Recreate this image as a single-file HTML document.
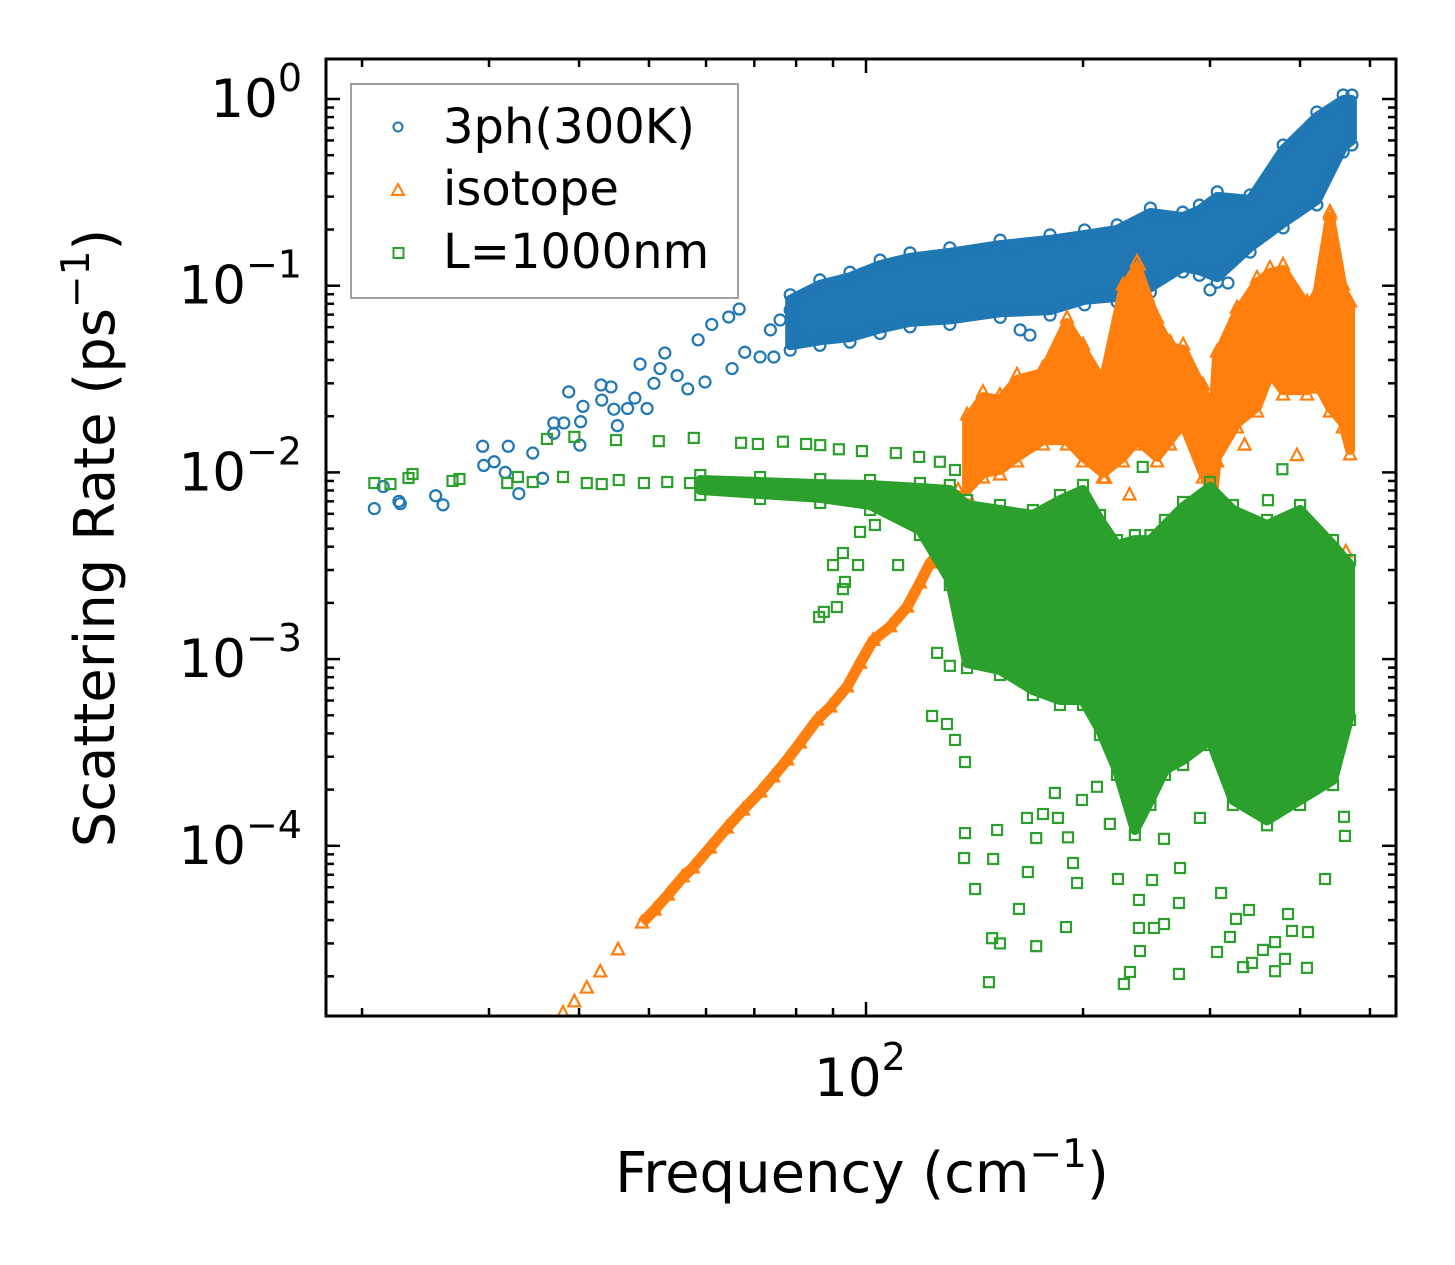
<!DOCTYPE html>
<html><head><meta charset="utf-8"><style>
html,body{margin:0;padding:0;background:#fff;}
svg{display:block;font-family:"DejaVu Sans","Liberation Sans",sans-serif;}
</style></head>
<body>
<svg id="chart" width="1455" height="1265" viewBox="0 0 1455 1265" xmlns="http://www.w3.org/2000/svg">
<defs><clipPath id="plotclip"><rect x="326" y="59" width="1070" height="957"/></clipPath></defs>
<rect width="1455" height="1265" fill="#fff"/>
<g id="marks" clip-path="url(#plotclip)"></g>
<g id="axes"></g>
<g id="legend">
<rect x="351" y="84" width="387" height="214" fill="#fff" fill-opacity="0.85" stroke="#a0a0a0" stroke-width="2"/>
<circle cx="398" cy="127" r="4.5" fill="none" stroke="#1f77b4" stroke-width="2"/>
<text x="443" y="143" font-size="48">3ph(300K)</text>
<path d="M398,184 L404,195 L392,195 Z" fill="none" stroke="#ff7f0e" stroke-width="2"/>
<text x="443" y="205" font-size="48">isotope</text>
<rect x="393.5" y="248" width="10" height="10" fill="none" stroke="#2ca02c" stroke-width="2"/>
<text x="443" y="268" font-size="48">L=1000nm</text>
</g>
<text x="862" y="1192" font-size="56" text-anchor="middle">Frequency (cm<tspan font-size="39" dy="-25">−1</tspan><tspan dy="25">)</tspan></text>
<text transform="translate(114,538) rotate(-90)" font-size="56" text-anchor="middle">Scattering Rate (ps<tspan font-size="39" dy="-25">−1</tspan><tspan dy="25">)</tspan></text>
</svg>
<script>
// ---- data ----
const blueF = [20.8,21.4,22.5,22.6,25.3,25.9,29.4,29.5,30.5,31.9,31.6,33.0,34.5,35.6,36.9,36.9,38.1,38.7,40.1,40.2,40.5,42.9,43.0,44.3,44.7,45.2,46.7,47.8,48.6,49.7,50.8,51.8,52.6,54.7,56.6,58.5,59.8,61.1,64.5,65.2,66.7,67.9,71.3,74.5,80.0,86.7,73.7,76.0,78.5,163.6,168.8,300,317.7];
const blueR = [0.0064,0.0084,0.0070,0.0068,0.0075,0.0067,0.0138,0.0109,0.0114,0.0138,0.0100,0.0077,0.0127,0.0093,0.0184,0.0162,0.0184,0.027,0.0140,0.0187,0.0226,0.0294,0.0244,0.0287,0.0218,0.0178,0.022,0.025,0.038,0.022,0.030,0.036,0.0436,0.033,0.028,0.0513,0.0305,0.062,0.068,0.036,0.075,0.044,0.0415,0.0415,0.0547,0.053,0.058,0.0655,0.074,0.058,0.0544,0.095,0.1034];
const blueBandF = [78.5,86.3,95,104.6,115.1,130.7,153.5,180,201,223,248,275,290,307,341,379,422,459,472];
const blueBandHi = [0.084,0.101,0.111,0.129,0.141,0.150,0.165,0.176,0.187,0.199,0.245,0.233,0.254,0.299,0.288,0.533,0.801,0.988,0.988];
const blueBandLo = [0.048,0.051,0.053,0.059,0.064,0.066,0.072,0.074,0.084,0.087,0.098,0.126,0.121,0.111,0.161,0.217,0.288,0.553,0.603];

const orangeLineF = [38.0,39.4,41.0,42.8,45.3,48.9,50.9,53.1,55.7,57.5,60.7,64.1,67.5,71.3,74.3,77.7,81.0,85.5,89.2,94.1,98.1,102.3,108,114,118.8,122.7,126.6,130.7,134.2];
const orangeLineR = [1.27e-5,1.46e-5,1.73e-5,2.11e-5,2.77e-5,3.86e-5,4.53e-5,5.45e-5,6.81e-5,7.61e-5,9.73e-5,1.245e-4,1.555e-4,1.94e-4,2.34e-4,2.88e-4,3.56e-4,4.72e-4,5.54e-4,7.1e-4,9.5e-4,1.26e-3,1.49e-3,1.9e-3,2.56e-3,3.27e-3,3.61e-3,5.56e-3,8.05e-3];
const orangeBandF = [138.1,145.3,153.4,162,176,190,200,213.2,227.2,237.6,253.3,264,275.3,293.4,302.9,306.8,327,348.6,363.4,378.8,409,422,440,458.7,469.2];
const orangeBandHi = [0.0191,0.0253,0.0244,0.0313,0.0341,0.0631,0.0453,0.0301,0.0948,0.126,0.0631,0.047,0.0453,0.0276,0.0191,0.0415,0.0714,0.1034,0.117,0.1214,0.0769,0.087,0.2333,0.0948,0.0769];
const orangeBandLo = [0.00805,0.00993,0.0103,0.0121,0.0149,0.0149,0.0121,0.00993,0.0121,0.0149,0.0121,0.0149,0.0184,0.00993,0.00757,0.0121,0.0184,0.0224,0.0341,0.0276,0.0276,0.0301,0.0224,0.0184,0.0132];
const orangeF = [239,463,465,440,232,214.6,335,396];
const orangeR = [0.129,0.00375,0.00234,0.24,0.00757,0.0093,0.0140,0.0123];

const greenF = [36.1,39.4,45.0,51.6,57.7,67.1,70.8,76.7,82.6,86.4,91.7,98.7,110,118.5,126.6,132.9,
 20.8,21.9,23.2,23.5,26.7,27.3,31.8,32.9,34.5,38.0,41.0,43.0,45.4,49.2,53.0,57.0,
 98.1,102.9,92.9,90.0,97.5,93.5,92.9,87.4,91.1,86.1,110.8,125.5,130.7,123.5,129.5,132.9,
 137.2,137.2,136.8,141.7,148.1,150.1,152,149.6,153.4,163,167.2,167.7,172.2,172.2,176,184.6,182.8,189.4,190.6,193.7,196.2,199.3,209.1,217.9,223.6,227.9,232.3,239.1,239.1,239.9,249.3,250.9,259,259,271.7,272.6,271.7,290.5,306.8,310.8,319.8,326,333.4,343.1,339.8,355.3,369.3,369.3,381.2,384.9,389.8,410.2,408.9,433.2,461.6,460.2,242,378,361];
const greenR = [0.0151,0.0155,0.0149,0.0147,0.0153,0.0144,0.0142,0.0146,0.0142,0.0140,0.0133,0.0130,0.0127,0.0121,0.0114,0.0103,
 0.00877,0.00866,0.00933,0.0098,0.0090,0.00922,0.00877,0.00945,0.00888,0.00945,0.00877,0.00866,0.0091,0.00877,0.00888,0.00877,
 0.0048,0.00523,0.0037,0.00319,0.00319,0.00259,0.00237,0.00179,0.0019,0.00168,0.00319,0.00108,0.00092,0.000496,0.000449,0.000369,
 0.000281,0.000117,0.000086,5.87e-5,1.86e-5,8.5e-5,0.0001215,3.2e-5,3.0e-5,4.59e-5,0.000141,7.24e-5,0.00011,2.9e-5,0.000148,0.000141,0.000192,3.67e-5,0.000111,8.09e-5,6.32e-5,0.000176,0.000207,0.000131,6.64e-5,1.82e-5,2.11e-5,5.13e-5,3.63e-5,2.73e-5,6.56e-5,3.63e-5,3.81e-5,0.000109,2.06e-5,7.6e-5,4.94e-5,0.000141,2.7e-5,5.59e-5,3.25e-5,4.06e-5,2.24e-5,2.36e-5,4.53e-5,2.77e-5,3.05e-5,2.13e-5,2.48e-5,4.31e-5,3.5e-5,3.45e-5,2.22e-5,6.64e-5,0.000113,0.000143,0.0107,0.0104,0.0071];
const greenBandF = [58.9,71.3,86.4,101.3,118.8,130.7,138.1,153.4,170.4,185.8,200,211.1,222.9,236,248,259.8,275.3,300,322.8,359.9,400,444.4,469.2];
const greenBandHi = [0.0091,0.00888,0.00866,0.00856,0.00825,0.00805,0.00669,0.00629,0.00591,0.00711,0.00805,0.00556,0.00408,0.00434,0.00434,0.00523,0.00653,0.00835,0.00629,0.00523,0.00629,0.00408,0.00319];
const greenBandLo = [0.00805,0.00766,0.0073,0.00669,0.00491,0.00265,0.000953,0.000874,0.000683,0.000604,0.000604,0.000417,0.000255,0.0001215,0.000176,0.000255,0.000288,0.000369,0.000176,0.000137,0.000176,0.000225,0.000502];

const yTickExp = [0,-1,-2,-3,-4];
const yTickLabels = ["0","−1","−2","−3","−4"];
const xMajorTicks = [100];
const xMinorTicks = [20,30,40,50,60,70,80,90,200,300,400,500];

// ---- scales ----
const PL=326, PR=1396, PT=59, PB=1016;
function X(f){ return 866 + (Math.log10(f)-2)*721; }
function Y(r){ return 99 - Math.log10(r)*186.7; }

const NS="http://www.w3.org/2000/svg";
const marks=document.getElementById('marks');
const axes=document.getElementById('axes');
function mk(tag, attrs, parent){
  const e=document.createElementNS(NS,tag);
  for(const k in attrs) e.setAttribute(k, attrs[k]);
  parent.appendChild(e); return e;
}
const C={blue:"#1f77b4",orange:"#ff7f0e",green:"#2ca02c"};

function marker(kind, x, y, color, parent){
  let e;
  if(kind==='circle'){ e=mk('circle',{cx:x,cy:y,r:5.5,fill:'none',stroke:color,'stroke-width':2.2},parent); }
  else if(kind==='tri'){ e=mk('path',{d:`M${x},${y-7} L${x+6},${y+4.5} L${x-6},${y+4.5} Z`,fill:'none',stroke:color,'stroke-width':2.2},parent); }
  else { e=mk('rect',{x:x-5,y:y-5,width:10,height:10,fill:'none',stroke:color,'stroke-width':2.2},parent); }
  return e;
}
function band(F,Hi,Lo,color,kind,name){
  const g=mk('g',{},marks);
  
  
  let d='';
  F.forEach((f,i)=>{ d+=(i?'L':'M')+X(f).toFixed(1)+','+Y(Hi[i]).toFixed(1); });
  for(let i=F.length-1;i>=0;i--) d+='L'+X(F[i]).toFixed(1)+','+Y(Lo[i]).toFixed(1);
  d+='Z';
  const p=mk('path',{d:d,fill:color,stroke:color,'stroke-width':10,'stroke-linejoin':'round'},g);
  
  
  F.forEach((f,i)=>{
    const a=marker(kind,X(f),Y(Hi[i])-5,color,g);
    
    
    const b=marker(kind,X(f),Y(Lo[i])+5,color,g);
    
    
  });
}
function scatter(F,R,color,kind,name){
  const g=mk('g',{},marks);
  
  
  F.forEach((f,i)=>{
    const e=marker(kind,X(f),Y(R[i]),color,g);
    
    
  });
}

// blue
band(blueBandF,blueBandHi,blueBandLo,C.blue,'circle','3ph-dense');
scatter(blueF,blueR,C.blue,'circle','3ph');
// orange
band(orangeBandF,orangeBandHi,orangeBandLo,C.orange,'tri','isotope-dense');
(function(){
  let d='';
  orangeLineF.forEach((f,i)=>{ if(i>=5) d+=(i>5?'L':'M')+X(f).toFixed(1)+','+Y(orangeLineR[i]).toFixed(1); });
  const l=mk('path',{d:d,fill:'none',stroke:C.orange,'stroke-width':11,'stroke-linejoin':'round'},marks);
  
  
})();
scatter(orangeLineF,orangeLineR,C.orange,'tri','isotope-low');
scatter(orangeF,orangeR,C.orange,'tri','isotope');
// green
band(greenBandF,greenBandHi,greenBandLo,C.green,'square','boundary-dense');
scatter(greenF,greenR,C.green,'square','boundary');

// ---- axes ----
const frame=mk('rect',{x:PL,y:PT,width:PR-PL,height:PB-PT,fill:'none',stroke:'#000','stroke-width':3},axes);


function tick(x1,y1,x2,y2,name){
  const t=mk('line',{x1:x1,y1:y1,x2:x2,y2:y2,stroke:'#000','stroke-width':2.5},axes);
  
  
}
for(let e=1;e>=-5;e--){
  for(let m=1;m<=9;m++){
    const y=Y(m*Math.pow(10,e));
    if(y<PT+1||y>PB-1) continue;
    const len = m===1?14:8;
    tick(PL,y,PL+len,y, m===1?'y-major-tick':'y-minor-tick');
    tick(PR,y,PR-len,y, m===1?'y-major-tick-right':'y-minor-tick-right');
  }
}
yTickExp.forEach((e,i)=>{
  const y=Y(Math.pow(10,e));
  const t=mk('text',{x:302,y:y+18,'font-size':53,'text-anchor':'end'},axes);
  
  
  t.innerHTML='10<tspan font-size="38" dy="-26">'+yTickLabels[i]+'</tspan>';
});
xMajorTicks.forEach(f=>{
  const x=X(f);
  tick(x,PB,x,PB-14,'x-major-tick');
  tick(x,PT,x,PT+14,'x-major-tick-top');
  const t=mk('text',{x:x-6,y:1096,'font-size':53,'text-anchor':'middle'},axes);
  
  
  t.innerHTML='10<tspan font-size="38" dy="-26">2</tspan>';
});
xMinorTicks.forEach(f=>{
  const x=X(f);
  tick(x,PB,x,PB-8,'x-minor-tick');
  tick(x,PT,x,PT+8,'x-minor-tick-top');
});
</script>
</body></html>
